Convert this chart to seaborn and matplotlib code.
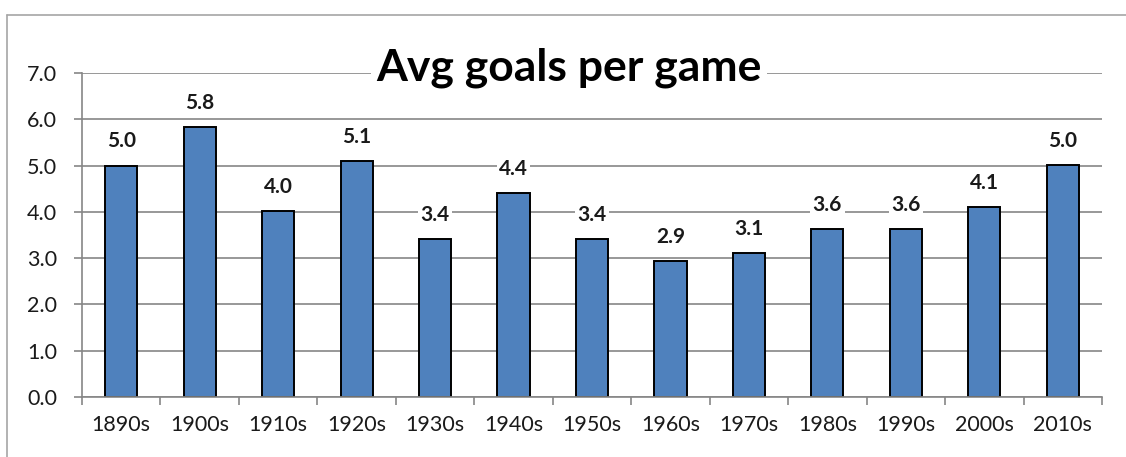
import matplotlib
matplotlib.use("Agg")
import matplotlib.pyplot as plt
import seaborn as sns
import pandas as pd
from matplotlib.lines import Line2D

decades = ["1890s", "1900s", "1910s", "1920s", "1930s", "1940s", "1950s",
           "1960s", "1970s", "1980s", "1990s", "2000s", "2010s"]
avg_goals = [5.0, 5.83, 4.02, 5.1, 3.41, 4.41, 3.41, 2.94, 3.11, 3.63, 3.63, 4.1, 5.01]
label_text = ["5.0", "5.8", "4.0", "5.1", "3.4", "4.4", "3.4", "2.9", "3.1", "3.6", "3.6", "4.1", "5.0"]
y_ticks = [0, 1, 2, 3, 4, 5, 6, 7]
title = "Avg goals per game"

df = pd.DataFrame({"decade": decades, "goals": avg_goals})

sns.set_theme(style="white")
plt.rcParams["font.family"] = ["Lato", "DejaVu Sans"]

W, H = 1126, 457
fig = plt.figure(figsize=(W / 100, H / 100), dpi=100)
fig.patch.set_facecolor("white")

# outer chart border (only left and top visible; cropped elsewhere)
bx, by = 7.5 / W, 1 - 14.5 / H
fig.lines.append(Line2D([bx, bx], [-0.05, by], transform=fig.transFigure,
                        color="#A6A6A6", linewidth=1.2))
fig.lines.append(Line2D([bx, 1.05], [by, by], transform=fig.transFigure,
                        color="#A6A6A6", linewidth=1.2))

ax = fig.add_axes([82 / W, 60 / H, (1102 - 82) / W, (397 - 73) / H])
grid_c = "#868686"
sns.barplot(data=df, x="decade", y="goals", ax=ax, color="#4F81BD",
            edgecolor="black", linewidth=1.4, width=0.41, saturation=1)

ax.set_ylim(0, 7)
ax.set_xlim(-0.5, len(decades) - 0.5)
ax.set_yticks(y_ticks)
ax.set_yticklabels([f"{v:.1f}" for v in y_ticks])
ax.set_xlabel("")
ax.set_ylabel("")
ax.yaxis.grid(True, color=grid_c, linewidth=1.2)
ax.set_axisbelow(True)
for s in ["top", "right"]:
    ax.spines[s].set_visible(False)
for s in ["left", "bottom"]:
    ax.spines[s].set_color(grid_c)
    ax.spines[s].set_linewidth(1.2)

ax.tick_params(axis="y", length=6, width=1.2, color=grid_c, pad=12,
               labelsize=15.5, labelcolor="#1a1a1a", left=True)
ax.tick_params(axis="x", which="major", length=0, pad=13,
               labelsize=15.5, labelcolor="#1a1a1a")
ax.set_xticks([i - 0.5 for i in range(len(decades) + 1)], minor=True)
ax.tick_params(axis="x", which="minor", length=6, width=1.2, color=grid_c,
               bottom=True)

for i, (v, t) in enumerate(zip(avg_goals, label_text)):
    ax.annotate(t, (i, v), xytext=(0, 17.5), textcoords="offset points",
                ha="center", va="center", fontsize=15, fontweight="bold",
                color="#1a1a1a",
                bbox=dict(boxstyle="square,pad=0.12", fc="white", ec="none"))

fig.text(569 / W, 1 - 68 / H, title, ha="center", va="center",
         fontsize=32, fontweight="bold", color="black",
         bbox=dict(boxstyle="square,pad=0.12", fc="white", ec="none"))

fig.savefig("out.png", dpi=100, facecolor="white")
